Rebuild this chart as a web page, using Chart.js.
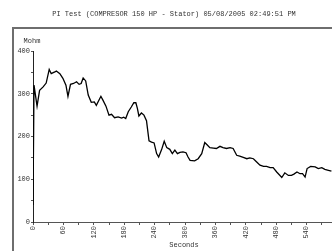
<!DOCTYPE html>
<html>
<head>
<meta charset="utf-8">
<script src="https://cdn.jsdelivr.net/npm/chart.js@4/dist/chart.umd.min.js"></script>
<style>
html,body{margin:0;padding:0;background:#fff;overflow:hidden;}
#wrap{position:absolute;left:0;top:0;width:360px;height:270px;}
</style>
</head>
<body>
<div id="wrap"><canvas id="c" width="360" height="270"></canvas></div>
<script>
const chartTitle = "PI Test (COMPRESOR 150 HP - Stator) 05/08/2005 02:49:51 PM";
const yAxisTitle = "Mohm";
const xAxisTitle = "Seconds";
const seconds = [0,2,8,13,20,26,32,36,43,46,53,59,65,69,74,80,86,91,95,99,104,109,115,121,125,134,138,144,150,155,161,168,175,179,183,188,194,199,203,206,209,214,219,224,229,234,239,244,248,254,259,264,270,275,280,285,290,296,302,306,310,319,326,333,339,344,349,356,362,369,375,382,389,395,402,408,415,422,428,435,441,448,455,461,468,474,481,491,497,504,510,515,521,527,532,537,541,548,557,563,570,576,583,589];
const mohm = [40,320,271,308,316,325,357,347,351,353,347,336,320,294,322,324,328,322,324,337,330,297,280,281,273,294,285,271,250,252,244,246,243,245,242,258,269,279,279,266,248,255,250,237,190,187,185,160,152,170,189,174,170,160,168,160,163,164,162,152,144,143,148,160,186,180,174,173,172,177,174,172,174,172,156,154,151,148,150,148,141,133,130,130,127,127,117,104,115,109,109,112,117,113,113,105,125,130,129,125,127,123,121,119];
const xTickValues = [0,60,120,180,240,300,360,420,480,540,600];
const yTickValues = [0,100,200,300,400];

const points = seconds.map((s,i)=>({x:s,y:mohm[i]}));
const FONT = "'Liberation Mono', 'Courier New', monospace";
const TXT = '#333';

const decor = {
  id:'decor',
  beforeDraw(chart){
    const ctx = chart.ctx;
    ctx.save();
    ctx.fillStyle='#fff';
    ctx.fillRect(0,0,chart.width,chart.height);
    ctx.strokeStyle='#6e6e6e';
    ctx.lineWidth=2;
    ctx.strokeRect(13,28,400,400);
    ctx.restore();
  },
  afterDraw(chart){
    const ctx = chart.ctx;
    ctx.save();
    ctx.fillStyle=TXT;
    ctx.font = "7px " + FONT;
    ctx.textAlign='center';
    ctx.textBaseline='middle';
    ctx.fillText(chartTitle,174,14);
    ctx.fillText(yAxisTitle,32,41);
    ctx.fillText(xAxisTitle,184,245);
    ctx.restore();
  }
};

new Chart(document.getElementById('c'),{
  type:'scatter',
  data:{datasets:[{
    data:points,
    showLine:true,
    borderColor:'#000',
    borderWidth:1.3,
    pointRadius:0,
    tension:0,
    fill:false
  }]},
  options:{
    responsive:false,
    animation:false,
    devicePixelRatio:1,
    layout:{padding:{top:51,left:0,right:23,bottom:0}},
    plugins:{legend:{display:false},tooltip:{enabled:false},title:{display:false}},
    scales:{
      x:{
        type:'linear',min:0,max:600,
        afterFit(s){s.height=48;},
        border:{display:true,color:'#555',width:1},
        grid:{drawOnChartArea:false,drawTicks:true,tickLength:3,color:'#555'},
        ticks:{
          stepSize:30,autoSkip:false,maxRotation:90,minRotation:90,padding:1,
          color:TXT,font:{family:FONT,size:7},
          callback:(v)=>xTickValues.includes(v)?String(v):''
        }
      },
      y:{
        type:'linear',min:0,max:400,
        afterFit(s){s.width=33;},
        border:{display:true,color:'#222',width:1},
        grid:{drawOnChartArea:false,drawTicks:true,tickLength:2,color:'#555'},
        ticks:{
          stepSize:50,autoSkip:false,padding:1,
          color:TXT,font:{family:FONT,size:7},
          callback:(v)=>yTickValues.includes(v)?String(v):''
        }
      }
    }
  },
  plugins:[decor]
});
</script>
</body>
</html>
